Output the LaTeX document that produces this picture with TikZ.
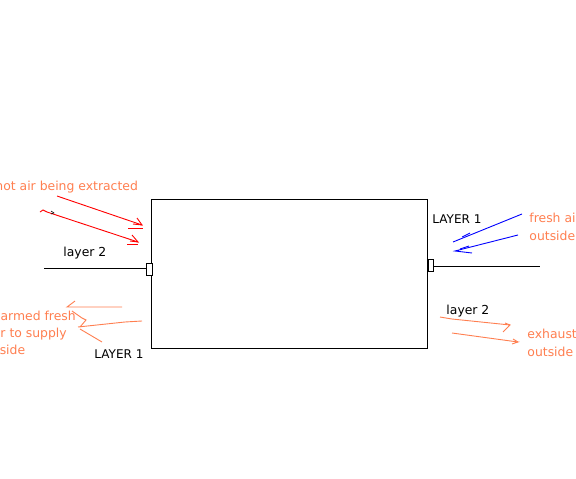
\documentclass[tikz,border=0pt]{standalone}
\usepackage{fontspec}
\setmainfont{DejaVu Sans}
\definecolor{coral}{RGB}{255,127,80}
\begin{document}
\begin{tikzpicture}[x=1pt,y=-1pt,line width=0.9pt,
  lbl/.style={anchor=base west,inner sep=0pt,font=\fontsize{12.4}{14}\selectfont},
  olbl/.style={lbl,text=coral},
  caps/.style={lbl,font=\fontsize{12}{14}\selectfont},
  stroke/.style={line width=0.9pt}]
\useasboundingbox (0,0) rectangle (576,479);
\clip (0,0) rectangle (576,479);
\fill[white] (0,0) rectangle (576,479);
% main box
\node[draw,minimum width=276pt,minimum height=149pt,inner sep=0pt,anchor=north west] (box) at (151,199) {};
\node[draw,fill=white,minimum width=6pt,minimum height=12pt,inner sep=0pt] (lport) at (149,269) {};
\node[draw,fill=white,minimum width=5pt,minimum height=12pt,inner sep=0pt] (rport) at (430.5,265) {};
\coordinate (lend) at (44,268);
\coordinate (rend) at (540,266);
\draw (lend) -- (lport.west |- lend);
\draw (rport.east |- rend) -- (rend);
% labels
\node[olbl] (t1) at (-5,190) {hot air being extracted};
\node[lbl] (t2) at (63,256) {layer 2};
\node[olbl] (t3) at (-10,320) {warmed fresh};
\node[olbl] (t4) at (-11,337) {air to supply};
\node[olbl] (t5) at (-21,354) {outside};
\node[caps] (t6) at (94,358) {LAYER 1};
\node[caps] (t7) at (432,223) {LAYER 1};
\node[olbl] (t8) at (529,222) {fresh air};
\node[olbl] (t9) at (529,240) {outside};
\node[lbl] (t10) at (446,314) {layer 2};
\node[olbl] (t11) at (527,338) {exhaust};
\node[olbl] (t12) at (527,356) {outside};
% red arrows
\draw[red,stroke] (57,196) -- (142,225);
\draw[red,stroke] (137,218) -- (142,225) -- (133,224);
\draw[red,stroke] (128,228) -- (143,228);
\draw[red,stroke] (40,212) -- (43,210) -- (47,212) -- (138,242);
\draw[red,stroke] (132,235) -- (138,242) -- (130,241);
\draw[red,stroke] (127,244) -- (138,244);
\draw[black,line width=0.6pt] (51,211) -- (54,213) -- (51,214);
% orange left
\draw[coral,stroke] (122,307) -- (67,307) -- (75,301);
\draw[coral,stroke] (72,311) -- (82,318) -- (86,320) -- (80,327);
\draw[coral,stroke] (142,321) -- (125,322) -- (78,327);
\draw[coral,stroke] (80,329) -- (102,342);
% blue
\draw[blue,stroke] (522,214) -- (453,242);
\draw[blue,stroke] (470,233) -- (462,237);
\draw[blue,stroke] (518,235) -- (455,251) -- (472,253);
\draw[blue,stroke] (469,246) -- (460,249);
% orange right
\draw[coral,stroke] (440,317) -- (452,319) -- (510,325) -- (503,332);
\draw[coral,stroke] (505,323) -- (510,325);
\draw[coral,stroke] (452,333) -- (518,342) -- (512,344);
\draw[coral,stroke] (513,339) -- (518,342);
\end{tikzpicture}
\end{document}
